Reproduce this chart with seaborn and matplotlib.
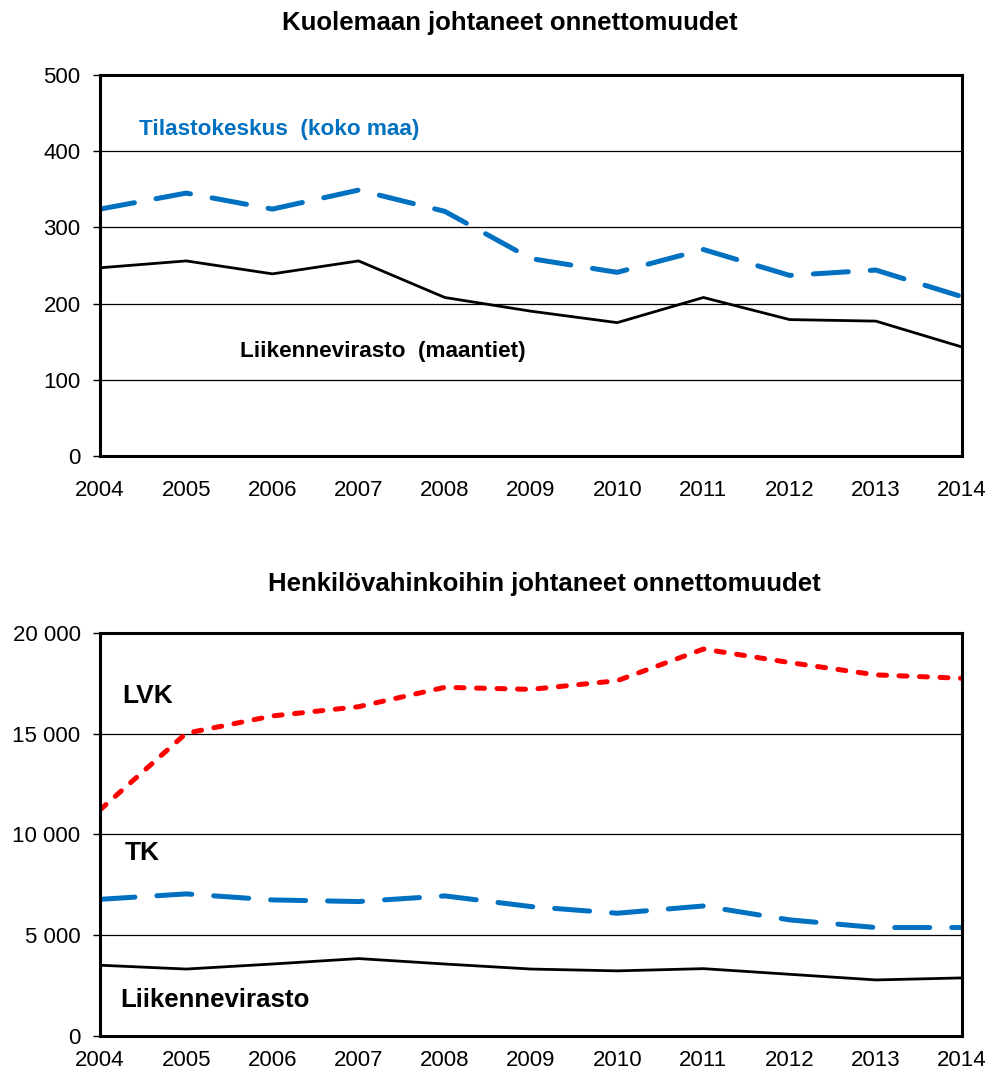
import pandas as pd
import matplotlib.pyplot as plt
import matplotlib.ticker as mticker
import seaborn as sns

years = list(range(2004, 2015))

# Kuolemaan johtaneet onnettomuudet
tk_deaths = [324, 345, 324, 349, 321, 259, 241, 271, 237, 244, 209]
lv_deaths = [247, 256, 239, 256, 208, 190, 175, 208, 179, 177, 143]

# Henkilövahinkoihin johtaneet onnettomuudet
lvk_injury = [11220, 15020, 15880, 16340, 17300, 17200, 17630, 19200, 18530, 17920, 17750]
tk_injury = [6780, 7050, 6750, 6670, 6950, 6420, 6090, 6450, 5760, 5380, 5380]
lv_injury = [3510, 3320, 3570, 3840, 3570, 3320, 3230, 3340, 3060, 2780, 2880]

sns.set_style("white")
plt.rcParams['font.family'] = ['Liberation Sans', 'DejaVu Sans']
plt.rcParams['text.color'] = 'black'

BLUE = "#0070C0"
RED = "#FF0000"

df1 = pd.DataFrame({"year": years, "tk": tk_deaths, "lv": lv_deaths})
df2 = pd.DataFrame({"year": years, "lvk": lvk_injury, "tk": tk_injury, "lv": lv_injury})

fig = plt.figure(figsize=(9.87, 10.79), dpi=100)
ax1 = fig.add_axes([0.1013, 0.5774, 0.8734, 0.3531])
ax2 = fig.add_axes([0.1013, 0.0399, 0.8734, 0.3735])

#top chart
sns.lineplot(data=df1, x="year", y="tk", ax=ax1, color=BLUE, lw=3.6,
             linestyle=(0, (7, 4.4)), dash_capstyle="round")
sns.lineplot(data=df1, x="year", y="lv", ax=ax1, color="black", lw=2)
ax1.set_ylim(0, 500)
ax1.set_yticks(range(0, 501, 100))
ax1.text(0.045, 0.856, "Tilastokeskus  (koko maa)", transform=ax1.transAxes,
         color=BLUE, fontsize=16.2, fontweight="bold", va="center")
ax1.text(0.162, 0.273, "Liikennevirasto  (maantiet)", transform=ax1.transAxes,
         color="black", fontsize=16.2, fontweight="bold", va="center")
ax1.tick_params(axis="x", length=0, pad=17)

#bottom chart
sns.lineplot(data=df2, x="year", y="lvk", ax=ax2, color=RED, lw=3.6,
             linestyle=(0, (1.6, 2.5)), dash_capstyle="round")
sns.lineplot(data=df2, x="year", y="tk", ax=ax2, color=BLUE, lw=3.6,
             linestyle=(0, (7, 4.4)), dash_capstyle="round")
sns.lineplot(data=df2, x="year", y="lv", ax=ax2, color="black", lw=2)
ax2.set_ylim(0, 20000)
ax2.set_yticks(range(0, 20001, 5000))
ax2.yaxis.set_major_formatter(mticker.FuncFormatter(lambda v, p: f"{v:,.0f}".replace(",", " ")))
ax2.text(0.0255, 0.844, "LVK", transform=ax2.transAxes,
         fontsize=19, fontweight="bold", va="center")
ax2.text(0.029, 0.454, "TK", transform=ax2.transAxes,
         fontsize=19, fontweight="bold", va="center")
ax2.text(0.0235, 0.089, "Liikennevirasto", transform=ax2.transAxes,
         fontsize=18.6, fontweight="bold", va="center")
ax2.tick_params(axis="x", direction="in", length=5, width=1.5, pad=10)

for ax in (ax1, ax2):
    ax.set_xlim(2004, 2014)
    ax.set_xticks(years)
    ax.set_xlabel("")
    ax.set_ylabel("")
    ax.grid(axis="y", color="black", lw=0.9)
    ax.set_axisbelow(True)
    for s in ax.spines.values():
        s.set_visible(True)
        s.set_color("black")
        s.set_linewidth(2.2)
    ax.tick_params(axis="y", direction="out", length=5, width=1, pad=9, left=True)
    ax.tick_params(labelsize=16, colors="black")

fig.text(0.517, 0.979, "Kuolemaan johtaneet onnettomuudet", ha="center", va="center",
         fontsize=18.5, fontweight="bold")
fig.text(0.552, 0.459, "Henkilövahinkoihin johtaneet onnettomuudet", ha="center", va="center",
         fontsize=18.5, fontweight="bold")

plt.savefig("out.png", dpi=100)
